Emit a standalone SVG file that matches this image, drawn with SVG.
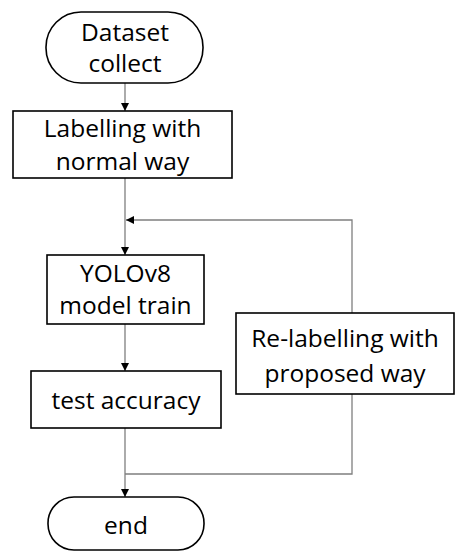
<svg xmlns="http://www.w3.org/2000/svg" width="460" height="553" viewBox="0 0 460 553">
  <style>
    .box { fill: #ffffff; stroke: #000000; stroke-width: 1.6; }
    .link { fill: none; stroke: #7f7f7f; stroke-width: 1.3; }
    text { font-family: "Open Sans", "Noto Sans", sans-serif; font-size: 24.5px; fill: #000000; text-anchor: middle; }
  </style>
  <defs>
    <marker id="arrow" viewBox="0 0 10 10" refX="10" refY="5" markerWidth="8" markerHeight="8" markerUnits="userSpaceOnUse" orient="auto">
      <path d="M0,0 L10,5 L0,10 Z" fill="#000000"/>
    </marker>
  </defs>

  <g id="connectors">
    <line class="link" x1="125" y1="83" x2="125" y2="111" marker-end="url(#arrow)"/>
    <line class="link" x1="125" y1="178" x2="125" y2="255" marker-end="url(#arrow)"/>
    <polyline class="link" points="352,313 352,220 126,220" marker-end="url(#arrow)"/>
    <line class="link" x1="125" y1="324" x2="125" y2="371" marker-end="url(#arrow)"/>
    <polyline class="link" points="352,394 352,474 125,474"/>
    <line class="link" x1="125" y1="428" x2="125" y2="497" marker-end="url(#arrow)"/>
  </g>

  <g id="dataset-collect">
    <rect class="box" x="46" y="12" width="157" height="71" rx="35" ry="35"/>
    <text x="125" y="41">Dataset</text>
    <text x="125" y="72">collect</text>
  </g>

  <g id="labelling-normal">
    <rect class="box" x="13" y="111" width="219" height="67"/>
    <text x="122.5" y="137">Labelling with</text>
    <text x="122.5" y="170">normal way</text>
  </g>

  <g id="yolov8-train">
    <rect class="box" x="47" y="255" width="157" height="69"/>
    <text x="125.5" y="282">YOLOv8</text>
    <text x="125.5" y="314">model train</text>
  </g>

  <g id="relabelling-proposed">
    <rect class="box" x="236" y="313" width="218" height="81"/>
    <text x="345" y="347">Re-labelling with</text>
    <text x="345" y="382">proposed way</text>
  </g>

  <g id="test-accuracy">
    <rect class="box" x="31" y="371" width="190" height="57"/>
    <text x="126" y="409">test accuracy</text>
  </g>

  <g id="end">
    <rect class="box" x="48" y="497" width="156" height="53" rx="26" ry="26"/>
    <text x="126" y="534">end</text>
  </g>
</svg>
